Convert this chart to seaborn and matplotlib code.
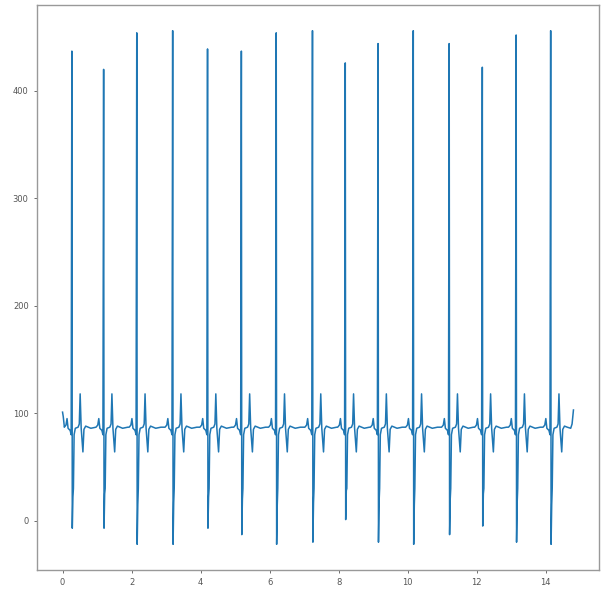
import numpy as np
import pandas as pd
import matplotlib
matplotlib.use("Agg")
import matplotlib.pyplot as plt
import seaborn as sns

# ---- data ----
beat_times = [0.27, 1.19, 2.15, 3.19, 4.20, 5.18, 6.19, 7.24, 8.19, 9.14,
              10.16, 11.20, 12.16, 13.14, 14.14]
r_peaks = [437, 420, 454, 456, 439, 437, 454, 456, 426, 444, 456, 444, 422, 452, 456]
s_troughs = [-7, -7, -22, -22, -7, -13, -22, -20, 1, -20, -22, -13, -5, -20, -22]
s_inner = [22, 25, 15, 17, 22, 20, 15, 17, 28, 18, 15, 20, 25, 17, 15]

# beat shape (offsets from R-peak, values); "R"/"S"/"I" -> per-beat values
tmpl_offsets = [-0.22, -0.17, -0.14, -0.11, -0.05, -0.02, 0.0, 0.012, 0.03, 0.045,
                0.065, 0.10, 0.18, 0.215, 0.24, 0.27, 0.32, 0.35, 0.40, 0.55, 0.70]
tmpl_values = [87, 89, 95, 86, 84, 80, "R", "S", "I", 30,
               80, 86, 87, 90, 118, 86, 64, 85, 88, 86, 87]

start_x = [0.0, 0.02, 0.05]
start_y = [101, 97, 88]
end_x = [14.62, 14.72, 14.76, 14.80]
end_y = [87, 86, 90, 103]

xs, ys = list(start_x), list(start_y)
for t, r, s, si in zip(beat_times, r_peaks, s_troughs, s_inner):
    for off, v in zip(tmpl_offsets, tmpl_values):
        x = t + off
        if x <= xs[-1] or x >= end_x[0]:
            continue
        if v == "R":
            v = r
        elif v == "S":
            v = s
        elif v == "I":
            v = si
        xs.append(x)
        ys.append(v)
xs += end_x
ys += end_y

df = pd.DataFrame({"t": xs, "v": ys})

fig = plt.figure(figsize=(6.01, 5.94), dpi=100)
ax = fig.add_axes([37 / 601, 24 / 594, 562 / 601, 565 / 594])
sns.lineplot(data=df, x="t", y="v", ax=ax, sort=False, estimator=None,
             color="#1f77b4", linewidth=1.1)

ax.set_xlabel("")
ax.set_ylabel("")
ax.set_xticks([0, 2, 4, 6, 8, 10, 12, 14])
ax.set_yticks([0, 100, 200, 300, 400])
ax.tick_params(labelsize=6, colors="#555555", length=2.5, width=0.6)
for sp in ax.spines.values():
    sp.set_color("#999999")
    sp.set_linewidth(1.0)

fig.savefig("out.png", dpi=100)
